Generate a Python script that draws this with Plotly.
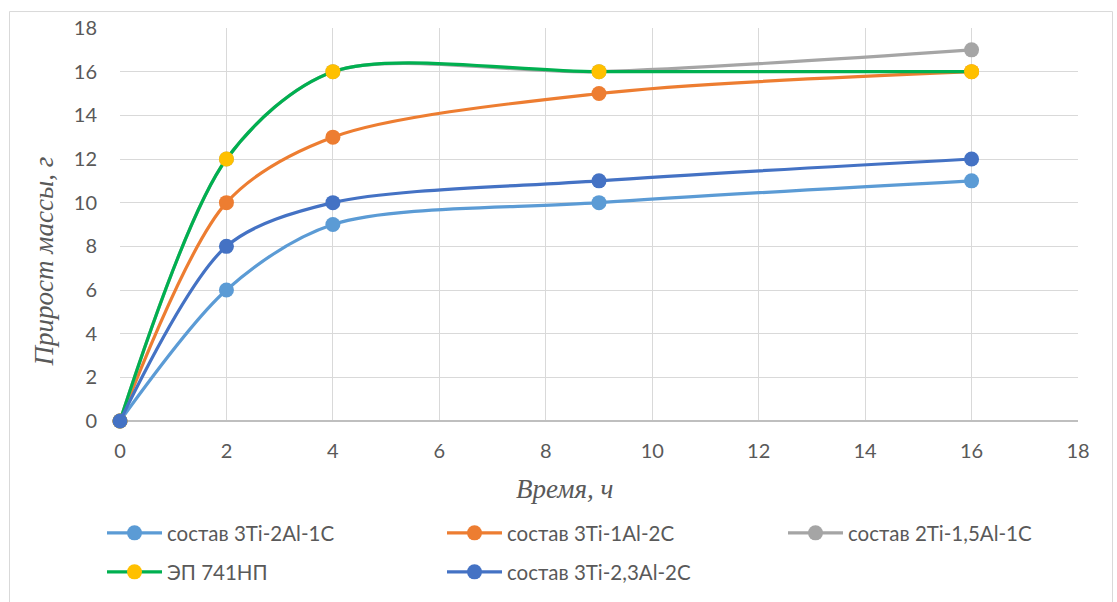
import plotly.graph_objects as go

hours = [0, 2, 4, 9, 16]
s_3ti_2al_1c = [0, 6, 9, 10, 11]
s_3ti_1al_2c = [0, 10, 13, 15, 16]
s_2ti_15al_1c = [0, 12, 16, 16, 17]
s_ep741np = [0, 12, 16, 16, 16]
s_3ti_23al_2c = [0, 8, 10, 11, 12]

names = ["состав 3Ti-2Al-1C", "состав 3Ti-1Al-2C", "состав 2Ti-1,5Al-1C",
         "ЭП 741НП", "состав 3Ti-2,3Al-2C"]
series = [s_3ti_2al_1c, s_3ti_1al_2c, s_2ti_15al_1c, s_ep741np, s_3ti_23al_2c]
line_colors = ["#5B9BD5", "#ED7D31", "#A5A5A5", "#00B050", "#4472C4"]
marker_colors = ["#5B9BD5", "#ED7D31", "#A5A5A5", "#FFC000", "#4472C4"]
legend_ids = ["legend", "legend2", "legend3", "legend4", "legend5"]

W, H = 1117, 602
L, R, T, B = 120, 1078, 28, 422
pw, ph = R - L, B - T

def px_x(x):
    return (x - L) / pw

def px_y(y):
    return (B - y) / ph

fig = go.Figure()
for name, ys, lc, mc, lg in zip(names, series, line_colors, marker_colors, legend_ids):
    fig.add_trace(go.Scatter(
        x=hours, y=ys, name=name, mode="lines+markers",
        line=dict(color=lc, width=3.2, shape="spline", smoothing=0.85),
        marker=dict(color=mc, size=15),
        legend=lg, cliponaxis=False,
    ))

txt = "#595959"
tick_font = dict(family="Lato, Noto Sans, sans-serif", size=20, color=txt)
leg_font = dict(family="Lato, Noto Sans, sans-serif", size=20.5, color=txt)
title_font = dict(family="Liberation Serif, serif", size=27, color=txt, style="italic")

# legend positions (pixel: line start, row center)
leg_pos = [(108, 533), (448, 533), (789, 533), (108, 572), (448, 572)]
legends = {}
for lg, (lx, ly) in zip(legend_ids, leg_pos):
    legends[lg] = dict(x=px_x(lx - 6), y=px_y(ly), xanchor="left", yanchor="middle",
                       font=leg_font, bgcolor="rgba(0,0,0,0)", itemwidth=55)

fig.update_layout(
    width=W, height=H,
    margin=dict(l=L, r=W - R, t=T, b=H - B),
    paper_bgcolor="white", plot_bgcolor="white",
    showlegend=True,
    xaxis=dict(range=[0, 18], dtick=2, tick0=0, showgrid=True, gridcolor="#D9D9D9",
               gridwidth=1, zeroline=False, showline=False, tickfont=tick_font,
               ticks="", ticklabelstandoff=16, fixedrange=True),
    yaxis=dict(range=[0, 18], dtick=2, tick0=0, showgrid=True, gridcolor="#D9D9D9",
               gridwidth=1, zeroline=True, zerolinecolor="#BFBFBF", zerolinewidth=1.5,
               showline=False, tickfont=tick_font, ticks="", ticklabelstandoff=22,
               fixedrange=True),
    annotations=[
        dict(text="Время, ч", xref="paper", yref="paper", x=px_x(564), y=px_y(490),
             xanchor="center", yanchor="middle", showarrow=False, font=title_font),
        dict(text="Прирост массы, г", xref="paper", yref="paper", x=px_x(44), y=px_y(262),
             xanchor="center", yanchor="middle", showarrow=False, textangle=-90,
             font=title_font),
    ],
    shapes=[
        dict(type="rect", xref="paper", yref="paper",
             x0=px_x(9.5), x1=px_x(1112.5), y0=px_y(612), y1=px_y(11.5),
             line=dict(color="#D9D9D9", width=1), fillcolor="rgba(0,0,0,0)", layer="below"),
    ],
    **legends,
)

fig.write_html("out.html")
